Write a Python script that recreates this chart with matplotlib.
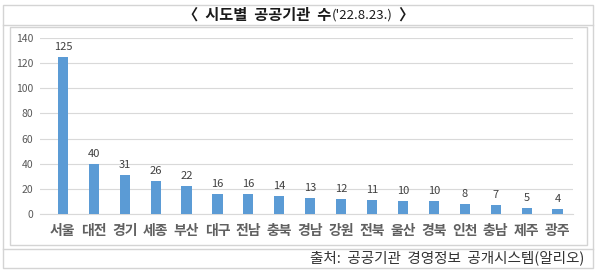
import matplotlib
matplotlib.use("Agg")
import matplotlib.pyplot as plt
from matplotlib.patches import Rectangle
from matplotlib.lines import Line2D

plt.rcParams['font.family'] = ['Noto Sans CJK KR', 'DejaVu Sans']

regions = ["서울", "대전", "경기", "세종", "부산", "대구", "전남", "충북", "경남",
           "강원", "전북", "울산", "경북", "인천", "충남", "제주", "광주"]
counts = [125, 40, 31, 26, 22, 16, 16, 14, 13, 12, 11, 10, 10, 8, 7, 5, 4]
yticks = [0, 20, 40, 60, 80, 100, 120, 140]

W, H = 600, 271
fig = plt.figure(figsize=(W / 100, H / 100), dpi=100)

def px(x0, y0, x1, y1):
    # pixel box (top-left origin) -> figure fraction rect
    return [x0 / W, 1 - y1 / H, (x1 - x0) / W, (y1 - y0) / H]

# frames
edge = "#d4d4d4"
fig.patches.append(Rectangle((3 / W, 1 - 268 / H), 590 / W, 263 / H,
                             transform=fig.transFigure, fill=False,
                             edgecolor=edge, lw=1))
fig.lines.append(Line2D([3 / W, 593 / W], [1 - 25 / H, 1 - 25 / H],
                        transform=fig.transFigure, color=edge, lw=1))
fig.lines.append(Line2D([3 / W, 593 / W], [1 - 249 / H, 1 - 249 / H],
                        transform=fig.transFigure, color=edge, lw=1))
fig.patches.append(Rectangle((10 / W, 1 - 245 / H), 577 / W, 218 / H,
                             transform=fig.transFigure, fill=False,
                             edgecolor=edge, lw=1))

# title: bold korean part, lighter date part, bold closing bracket
r = fig.canvas.get_renderer()
parts = [("〈  시도별  공공기관  수", "bold", 11),
         ("('22.8.23.)", "normal", 9.5),
         ("  〉", "bold", 11)]
texts = []
for s, wt, fs in parts:
    t = fig.text(0, 1 - 15 / H, s, ha="left", va="center", fontsize=fs,
                 fontweight=wt, color="#1a1a1a")
    texts.append(t)
widths = [t.get_window_extent(r).width for t in texts]
xpos = 299 - sum(widths) / 2
for t, w in zip(texts, widths):
    t.set_x(xpos / W)
    xpos += w

fig.text(584 / W, 1 - 258 / H, "출처:  공공기관  경영정보  공개시스템(알리오)",
         ha="right", va="center", fontsize=10.5, color="#333333")

ax = fig.add_axes(px(40, 38, 573, 214))
x = list(range(len(regions)))
ax.bar(x, counts, width=0.33, color="#5b9bd5", zorder=3)
for xi, v in zip(x, counts):
    ax.text(xi, v + 4, str(v), ha="center", va="bottom", fontsize=8,
            color="#404040")

ax.set_xlim(-0.74, 16.5)
ax.set_ylim(0, 140)
ax.set_yticks(yticks)
ax.set_yticklabels([str(t) for t in yticks], fontsize=7.5, color="#595959")
ax.set_xticks(x)
ax.set_xticklabels(regions, fontsize=10, fontweight="bold", color="#606060")
ax.tick_params(axis="both", length=0)
ax.tick_params(axis="x", pad=7)
ax.tick_params(axis="y", pad=5)
ax.grid(axis="y", color="#d9d9d9", lw=0.8, zorder=0)
for s in ["top", "right", "left"]:
    ax.spines[s].set_visible(False)
ax.spines["bottom"].set_color("#d9d9d9")
ax.set_facecolor("none")

fig.savefig("out.png", dpi=100)
